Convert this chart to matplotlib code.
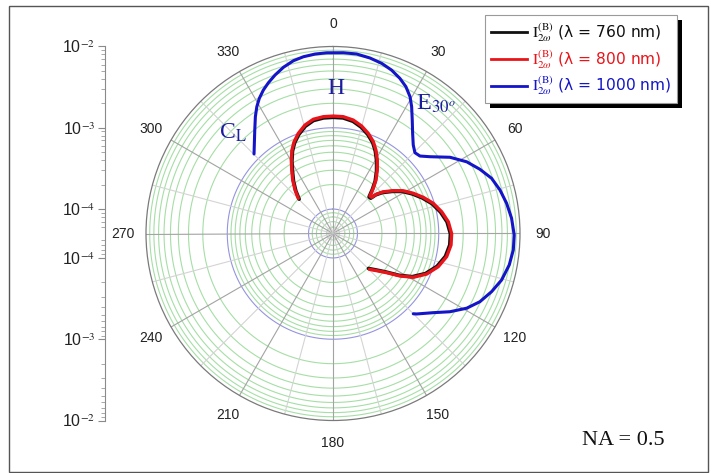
import numpy as np
import matplotlib
matplotlib.use('Agg')
import matplotlib.pyplot as plt
from matplotlib.patches import Rectangle
from matplotlib.lines import Line2D
from matplotlib.transforms import IdentityTransform

plt.rcParams['font.family'] = ['Liberation Sans', 'DejaVu Sans']
plt.rcParams['mathtext.fontset'] = 'stix'

# ---------------- data (angle in degrees, intensity) ----------------
theta_red = [-44.6, -41.1, -37.0, -33.0, -29.6, -26.2, -23.0, -19.1, -14.5, -9.8, -4.7, 0.1,
             5.0, 10.1, 14.9, 19.4, 23.7, 27.2, 31.1, 34.9, 38.8, 41.7, 44.6, 46.9, 47.9,
             50.3, 54.6, 58.7, 63.4, 68.2, 73.2, 78.7, 84.2, 90.1, 95.6, 101.5, 107.5,
             113.4, 118.6, 122.4, 126.1, 130.4, 134.6]
I_red = [2.03e-4, 2.57e-4, 3.33e-4, 4.27e-4, 5.47e-4, 6.97e-4, 8.41e-4, 1.007e-3, 1.194e-3,
         1.334e-3, 1.384e-3, 1.393e-3, 1.387e-3, 1.309e-3, 1.169e-3, 1.012e-3, 8.57e-4,
         7.14e-4, 5.68e-4, 4.48e-4, 3.49e-4, 2.78e-4, 2.22e-4, 2.24e-4, 2.65e-4, 3.18e-4,
         4.06e-4, 5.14e-4, 6.37e-4, 7.87e-4, 9.70e-4, 1.156e-3, 1.334e-3, 1.442e-3, 1.439e-3,
         1.337e-3, 1.140e-3, 9.02e-4, 6.67e-4, 4.72e-4, 3.29e-4, 2.54e-4, 2.12e-4]

theta_black = theta_red[:]
I_black = [1.96e-4, 2.48e-4, 3.21e-4, 4.12e-4, 5.28e-4, 6.73e-4, 8.12e-4, 9.72e-4, 1.152e-3,
           1.287e-3, 1.336e-3, 1.344e-3, 1.338e-3, 1.263e-3, 1.128e-3, 9.77e-4, 8.27e-4,
           6.89e-4, 5.48e-4, 4.32e-4, 3.37e-4, 2.68e-4, 2.14e-4, 2.16e-4, 2.56e-4, 3.07e-4,
           3.92e-4, 4.96e-4, 6.15e-4, 7.59e-4, 9.36e-4, 1.116e-3, 1.287e-3, 1.392e-3, 1.389e-3,
           1.290e-3, 1.100e-3, 8.70e-4, 6.44e-4, 4.55e-4, 3.17e-4, 2.45e-4, 2.05e-4]

theta_blue = [-44.8, -41.1, -37.1, -33.6, -31.0, -28.6, -25.9, -23.2, -20.1, -16.6, -12.9,
              -9.5, -5.7, -2.0, 3.3, 7.5, 11.9, 16.0, 19.7, 23.3, 26.4, 29.4, 31.8, 34.9,
              38.5, 42.2, 45.4, 48.3, 51.6, 56.9, 61.8, 66.4, 70.8, 75.4, 80.1, 85.1, 90.5,
              95.2, 100.1, 105.4, 110.1, 114.9, 119.2, 123.8, 128.3, 133.9, 135.0]
I_blue = [1.197e-3, 1.483e-3, 1.972e-3, 2.661e-3, 3.304e-3, 3.917e-3, 4.581e-3, 5.212e-3,
          5.957e-3, 6.81e-3, 7.59e-3, 8.02e-3, 8.28e-3, 8.39e-3, 8.45e-3, 8.45e-3, 8.05e-3,
          7.52e-3, 6.84e-3, 6.00e-3, 5.20e-3, 4.27e-3, 3.43e-3, 2.53e-3, 1.875e-3, 1.476e-3,
          1.303e-3, 1.355e-3, 1.660e-3, 2.61e-3, 3.68e-3, 4.70e-3, 5.82e-3, 6.64e-3, 7.36e-3,
          8.02e-3, 8.49e-3, 8.45e-3, 7.98e-3, 7.10e-3, 6.00e-3, 4.92e-3, 3.83e-3, 2.69e-3,
          1.866e-3, 1.340e-3, 1.247e-3]

series_labels = [r'$\mathrm{I}_{2\omega}^{\mathrm{(B)}}$ (λ = 760 nm)',
                 r'$\mathrm{I}_{2\omega}^{\mathrm{(B)}}$ (λ = 800 nm)',
                 r'$\mathrm{I}_{2\omega}^{\mathrm{(B)}}$ (λ = 1000 nm)']
series_colors = ['#111111', '#e8141a', '#1414c8']

angle_ticks = list(range(0, 360, 30))
r_min, r_max = 5e-5, 1e-2
decade_ticks = [1e-4, 1e-3, 1e-2]
decade_labels = [r'10$^{-4}$', r'10$^{-3}$', r'10$^{-2}$']

# ---------------- figure ----------------
W, H = 714, 473
fig = plt.figure(figsize=(W / 100, H / 100), dpi=100)
fig.patch.set_facecolor('white')

cx, cy, R = 333, 233.5, 187
ax = fig.add_axes([(cx - R) / W, (H - cy - R) / H, 2 * R / W, 2 * R / H], projection='polar')
ax.set_theta_zero_location('N')
ax.set_theta_direction(-1)
ax.set_rscale('log')
ax.set_rlim(r_min, r_max)
ax.grid(False)
ax.set_yticks([])
ax.set_yticks([], minor=True)
ax.spines['polar'].set_color('#7a7a7a')
ax.spines['polar'].set_linewidth(0.9)

# circular grid
th = np.linspace(0, 2 * np.pi, 721)
minor_vals = [m * 10.0 ** e for e in range(-5, -2) for m in range(2, 10)
              if r_min < m * 10.0 ** e < r_max]
for v in minor_vals:
    ax.plot(th, np.full_like(th, v), color='#a6dea6', lw=0.8, zorder=1)
for v in decade_ticks[:-1]:
    ax.plot(th, np.full_like(th, v), color='#9494e0', lw=0.8, zorder=1.1)
# radial spokes
for a in range(0, 360, 15):
    ax.plot([np.deg2rad(a)] * 2, [r_min, r_max],
            color='#a3a3a3' if a % 30 == 0 else '#d4d4d4', lw=0.8, zorder=1.2)

ax.set_xticks(np.deg2rad(angle_ticks))
ax.set_xticklabels([str(a) for a in angle_ticks])
ax.set_xticks(np.deg2rad(np.arange(15, 360, 30)), minor=True)
ax.tick_params(axis='x', which='major', direction='out', length=13, width=0.8,
               color='#8a8a8a', pad=-3.5, labelsize=10, labelcolor='#222222')
ax.tick_params(axis='x', which='minor', direction='inout', length=5, width=0.8, color='#8a8a8a')

# curves
ax.plot(np.deg2rad(theta_black), I_black, color=series_colors[0], lw=2.6, zorder=3,
        solid_capstyle='round', solid_joinstyle='round')
ax.plot(np.deg2rad(theta_red), I_red, color=series_colors[1], lw=2.4, zorder=4,
        solid_capstyle='round', solid_joinstyle='round')
ax.plot(np.deg2rad(theta_blue), I_blue, color=series_colors[2], lw=2.2, zorder=4,
        solid_capstyle='round', solid_joinstyle='round')
ax.set_rlim(r_min, r_max)

# ---------------- left log scale bar ----------------
lax = fig.add_axes([105 / W, (H - cy - R) / H, 0.0001, 2 * R / H])
lax.set_ylim(-1, 1)
lmin, lmax = np.log10(r_min), np.log10(r_max)


def bar_pos(v, s):
    return s * (np.log10(v) - lmin) / (lmax - lmin)


maj_pos = [bar_pos(v, s) for s in (1, -1) for v in decade_ticks]
maj_lab = [lab for s in (1, -1) for lab in decade_labels]
min_pos = [bar_pos(v, s) for s in (1, -1) for v in minor_vals]
lax.set_yticks(maj_pos)
lax.set_yticklabels(maj_lab)
lax.set_yticks(min_pos, minor=True)
lax.set_xticks([])
for sp in ['top', 'right', 'bottom']:
    lax.spines[sp].set_visible(False)
lax.spines['left'].set_color('#8a8a8a')
lax.tick_params(axis='y', which='major', direction='out', length=5, width=0.8,
                color='#8a8a8a', labelsize=11.5, pad=2, labelcolor='#222222')
lax.tick_params(axis='y', which='minor', direction='out', length=3, width=0.6, color='#9a9a9a')
lax.patch.set_visible(False)

# ---------------- annotations ----------------
blue_txt = '#1c1ca0'
fig.text(336 / W, 1 - 88 / H, 'H', color=blue_txt, fontsize=17, family='Liberation Serif',
         ha='center', va='center')
fig.text(233 / W, 1 - 133 / H, r'C$_{\mathrm{L}}$', color=blue_txt, fontsize=17,
         family='Liberation Serif', ha='center', va='center')
fig.text(436 / W, 1 - 104 / H, r'E$_{\mathrm{30}^{o}}$', color=blue_txt, fontsize=17.5,
         family='Liberation Serif', ha='center', va='center')
fig.text(623 / W, 1 - 440 / H, 'NA = 0.5', color='#111111', fontsize=16,
         family='Liberation Serif', ha='center', va='center')

# ---------------- legend ----------------
handles = [Line2D([0], [0], color=c, lw=2.0) for c in series_colors]
leg = fig.legend(handles, series_labels, loc='upper left', bbox_to_anchor=(485 / W, 1 - 15 / H),
                 frameon=True, fancybox=False, edgecolor='#9a9a9a', framealpha=1,
                 prop={'family': 'DejaVu Sans', 'size': 11.2},
                 labelcolor='linecolor', handlelength=2.3, handletextpad=0.3,
                 borderpad=0.4, labelspacing=0.25, borderaxespad=0)
leg.get_frame().set_linewidth(0.8)
leg.set_zorder(6)

fig.canvas.draw()
bb = leg.get_window_extent()
shadow = Rectangle((bb.x0 + 5, bb.y0 - 5), bb.width, bb.height, transform=IdentityTransform(),
                   facecolor='black', edgecolor='none', zorder=5.5)
fig.add_artist(shadow)

# outer frame
frame = Rectangle((9, 1), 699, 466, transform=IdentityTransform(), facecolor='none',
                  edgecolor='#555555', lw=1.0, zorder=0.1)
fig.add_artist(frame)

fig.savefig('out.png', dpi=100)
